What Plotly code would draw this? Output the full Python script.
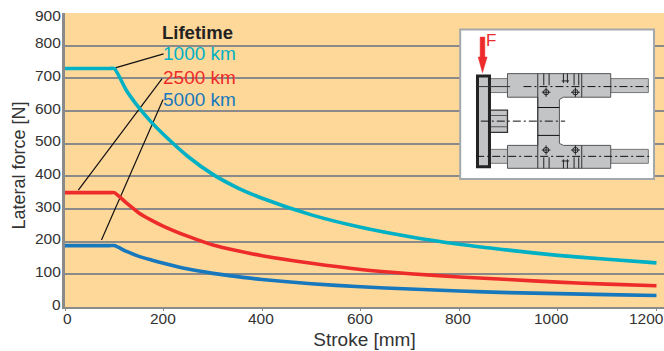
import plotly.graph_objects as go

W, H = 664, 351
L, R, T, B = 64.5, 0, 12.5, 43.5
PW, PH = W - L - R, H - T - B

stroke_1000 = [0, 90, 100, 125, 150, 175, 200, 250, 300, 350, 400, 500, 600, 700, 800, 900, 1000, 1100, 1200]
life_1000 = [730, 730, 730, 662, 610, 566, 528, 460, 406, 365, 333, 282, 244, 215, 192, 174, 158, 146, 135]
stroke_2500 = [0, 90, 100, 125, 150, 175, 200, 250, 300, 350, 400, 500, 600, 700, 800, 900, 1000, 1100, 1200]
life_2500 = [350, 350, 350, 318, 288, 266, 247, 216, 190, 172, 157, 134, 115, 102, 92, 84, 76, 70, 65]
stroke_5000 = [0, 90, 100, 125, 150, 175, 200, 250, 300, 350, 400, 500, 600, 700, 800, 900, 1000, 1100, 1200]
life_5000 = [188, 188, 188, 170, 155, 144, 134, 116, 103, 93, 84, 71, 62, 55, 49, 44, 41, 38, 35]
series_names = ["1000 km", "2500 km", "5000 km"]
series_colors = ["#00b0c4", "#ee2b2b", "#1878bd"]
x_ticks = [0, 200, 400, 600, 800, 1000, 1200]
y_ticks = [0, 100, 200, 300, 400, 500, 600, 700, 800, 900]
leader_x = [[102, 200], [27, 197], [74, 199]]
leader_y = [[732, 775], [358, 699], [205, 635]]

GRAY = "#8a8a8a"
TXT = "#333"
FONT = "Liberation Sans"
fig = go.Figure()
for lx, ly in zip(leader_x, leader_y):
    fig.add_trace(go.Scatter(x=lx, y=ly, mode="lines", line=dict(color="#111", width=1.2),
                             hoverinfo="skip", showlegend=False))
for name, xs, vals, col in zip(series_names, [stroke_1000, stroke_2500, stroke_5000],
                               [life_1000, life_2500, life_5000], series_colors):
    fig.add_trace(go.Scatter(x=xs, y=vals, name=name, mode="lines",
                             line=dict(color=col, width=3.6, shape="spline", smoothing=0.6),
                             showlegend=False))

def zx(v): return (440 + v / 3 - L) / PW
def zy(v): return 1 - (10 + v / 3 - T) / PH

shapes = []
def rect(x0, y0, x1, y1, fill="#c2c4c6", line="#555", w=1):
    shapes.append(dict(type="rect", xref="paper", yref="paper", layer="above",
                       x0=zx(x0), y0=zy(y0), x1=zx(x1), y1=zy(y1), fillcolor=fill,
                       line=dict(color=line, width=w)))
def seg(x0, y0, x1, y1, col="#111", w=1, dash=None):
    shapes.append(dict(type="line", xref="paper", yref="paper", layer="above",
                       x0=zx(x0), y0=zy(y0), x1=zx(x1), y1=zy(y1),
                       line=dict(color=col, width=w, dash=dash or "solid")))
def poly(pts, fill, line="#555", w=1):
    path = "M " + " L ".join(f"{zx(a):.5f},{zy(b):.5f}" for a, b in pts) + " Z"
    shapes.append(dict(type="path", xref="paper", yref="paper", layer="above", path=path,
                       fillcolor=fill, line=dict(color=line, width=w)))

rect(60, 57, 642, 507, fill="#ffffff", line="#a5a8ab", w=2)
rect(148, 205, 205, 247, line="#777")
rect(148, 418, 205, 460, line="#777")
rect(148, 300, 202, 367, line="#333", w=1.3)
seg(148, 316, 200, 316, "#555"); seg(148, 350, 200, 350, "#555")
rect(512, 205, 625, 247, line="#777")
rect(512, 418, 625, 460, line="#777")
poly([(202, 190), (512, 190), (512, 261), (370, 261), (358, 268), (358, 400), (370, 406), (512, 406),
      (512, 475), (202, 475), (202, 406), (293, 406), (293, 261), (202, 261)], "#c2c4c6")
rect(112, 197, 148, 470, line="#222", w=3)
DD = "8px,3px,2px,3px"
seg(112, 229, 210, 229, "#333")
seg(250, 229, 628, 229, "#111", 1, DD)
seg(122, 333, 375, 333, "#111", 1, DD)
seg(108, 439, 628, 439, "#111", 1, DD)
seg(293, 190, 293, 475, "#333")
seg(293, 292, 358, 292); seg(293, 376, 358, 376)
seg(425, 190, 425, 261, "#333"); seg(425, 406, 425, 475, "#333")
for cx, cy in [(318, 246), (406, 246), (318, 420), (406, 420)]:
    shapes.append(dict(type="circle", xref="paper", yref="paper", layer="above",
                       x0=zx(cx - 8), x1=zx(cx + 8), y0=zy(cy - 8), y1=zy(cy + 8),
                       line=dict(color="#222", width=1), fillcolor="rgba(0,0,0,0)"))
    seg(cx - 13, cy, cx + 13, cy, "#222"); seg(cx, cy - 14, cx, cy + 14, "#222")
for a in [311, 327, 402, 416]:
    seg(a, 190, a, 225, "#222"); seg(a, 442, a, 475, "#222")
for a in [370, 382]:
    seg(a, 190, a, 218, "#222"); seg(a, 448, a, 475, "#222")
seg(365, 212, 387, 212, "#222"); seg(365, 453, 387, 453, "#222")
poly([(120, 80), (134, 80), (134, 140), (141, 140), (127, 187), (114, 140), (120, 140)], "#ee2b2b", "#ee2b2b", 0.5)

ann = [dict(text="F", x=zx(133), y=zy(90), xref="paper", yref="paper", xanchor="left", yanchor="middle", showarrow=False,
            font=dict(color="#ee2b2b", size=17, family=FONT)),
       dict(text="<b>Lifetime</b>", x=199.5, y=841, xref="x", yref="y", xanchor="left", xshift=-3, showarrow=False,
            font=dict(color="#222", size=18.5, family=FONT)),
       dict(text="Lateral force [N]", x=(18 - L) / PW, y=1 - (166 - T) / PH, xref="paper", yref="paper",
            xanchor="center", yanchor="middle", textangle=-90, showarrow=False,
            font=dict(color=TXT, size=18, family=FONT))]
for name, col, yy in zip(series_names, series_colors, [776, 703, 636]):
    ann.append(dict(text=name, x=200, y=yy, xref="x", yref="y", xanchor="left", xshift=-3, showarrow=False,
                    font=dict(color=col, size=19, family=FONT)))
for v in y_ticks:
    ann.append(dict(text=str(v), x=0, y=v, xref="paper", yref="y", xanchor="right", yanchor="middle",
                    xshift=-2.5, yshift=-2.5 if v == 900 else 3, showarrow=False,
                    font=dict(color=TXT, size=15.5, family=FONT)))
x_label_shift = {0: 2.5, 200: -1, 400: -1, 600: -1, 800: -1, 1000: -6, 1200: -10}
for v in x_ticks:
    ann.append(dict(text=str(v), x=v, y=0, xref="x", yref="paper", xanchor="center", yanchor="middle",
                    xshift=x_label_shift[v], yshift=-11, showarrow=False,
                    font=dict(color=TXT, size=15.5, family=FONT)))

fig.update_layout(
    width=W, height=H, autosize=False, margin=dict(l=L, r=R, t=T, b=B),
    paper_bgcolor="#ffffff", plot_bgcolor="#fed899",
    font=dict(family=FONT, color=TXT), shapes=shapes, annotations=ann,
    xaxis=dict(range=[0, PW / 0.4933], tickvals=x_ticks, showticklabels=False, showgrid=False, zeroline=False,
               showline=True, linecolor=GRAY, linewidth=2, ticks="outside", ticklen=2, tickcolor=GRAY,
               title=dict(text="Stroke [mm]", font=dict(size=19, color=TXT), standoff=23)),
    yaxis=dict(range=[0, 900], tickvals=y_ticks, showticklabels=False, gridcolor=GRAY, gridwidth=2, zeroline=False,
               showline=True, linecolor=GRAY, linewidth=3, ticks=""),
)
fig.write_html("out.html", config=dict(displayModeBar=False),
               post_script="document.body.style.margin='0';document.documentElement.style.overflow='hidden';")
